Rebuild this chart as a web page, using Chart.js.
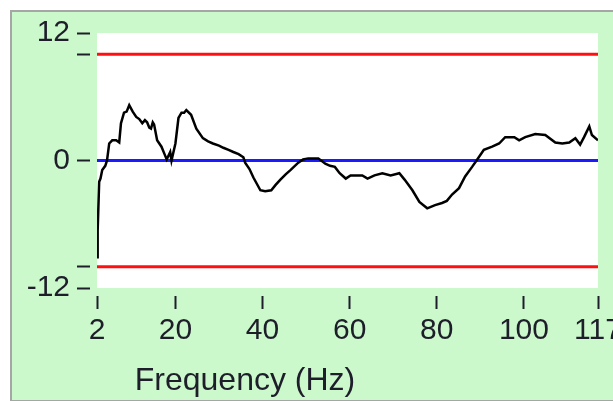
<!DOCTYPE html>
<html>
<head>
<meta charset="utf-8">
<script src="https://cdn.jsdelivr.net/npm/chart.js@4/dist/chart.umd.min.js"></script>
<style>
  html, body { margin: 0; padding: 0; background: #fff; overflow: hidden; }
  #wrap { width: 613px; height: 401px; }
</style>
</head>
<body>
<div id="wrap"><canvas id="c" width="613" height="401"></canvas></div>
<script>
// Measured response (dB) against frequency (Hz)
const freqs = [
  2.0, 2.15, 2.5, 2.8, 3.2, 3.9, 4.3, 4.8, 5.5, 6.4,
  7.1, 7.5, 8.2, 8.8, 9.4, 10.2, 11.0, 11.7, 12.4, 13.0,
  13.5, 14.0, 14.4, 14.8, 15.1, 15.8, 16.8, 17.5, 18.0, 18.8,
  19.1, 20.0, 20.7, 21.4, 22.0, 22.5, 23.6, 24.8, 26.3, 27.5,
  28.6, 30.0, 31.0, 32.2, 33.3, 34.5, 35.6, 36.0, 37.0, 37.9,
  39.5, 40.6, 42.0, 43.0, 44.1, 45.3, 46.4, 48.2, 49.3, 50.5,
  52.8, 54.4, 55.5, 56.6, 57.7, 59.1, 60.2, 61.5, 62.9, 64.1,
  65.7, 67.5, 69.4, 71.4, 72.6, 74.4, 76.0, 77.8, 79.6, 81.2,
  82.3, 83.5, 85.1, 86.5, 88.1, 89.2, 90.8, 92.7, 94.3, 95.7,
  97.8, 98.9, 100.3, 102.6, 104.9, 107.2, 108.8, 110.4, 111.8, 112.9,
  113.8, 115.0, 115.6, 117.0
];
const levels = [
  -9.1, -6.6, -2.0, -1.7, -0.9, -0.5, 0.0, 1.6, 1.9, 1.9,
  1.7, 3.5, 4.5, 4.6, 5.2, 4.6, 4.1, 3.9, 3.5, 3.8,
  3.6, 3.1, 3.0, 3.6, 3.4, 1.9, 1.3, 0.6, 0.1, 0.8,
  0.0, 1.6, 4.0, 4.5, 4.5, 4.75, 4.3, 3.0, 2.1, 1.8,
  1.6, 1.4, 1.2, 1.0, 0.8, 0.6, 0.3, -0.2, -0.8, -1.6,
  -2.8, -2.9, -2.8, -2.3, -1.8, -1.3, -0.9, -0.2, 0.1, 0.2,
  0.2, -0.3, -0.5, -0.6, -1.2, -1.7, -1.4, -1.4, -1.4, -1.7,
  -1.4, -1.2, -1.4, -1.2, -1.8, -2.8, -3.9, -4.5, -4.2, -4.0,
  -3.8, -3.2, -2.6, -1.5, -0.6, 0.05, 1.0, 1.3, 1.6, 2.2,
  2.2, 1.9, 2.2, 2.5, 2.4, 1.7, 1.6, 1.7, 2.1, 1.5,
  2.2, 3.2, 2.4, 1.9
];

// Tolerance band and reference level
const upperLimit = 10;
const lowerLimit = -10;
const referenceLevel = 0;

// Axis ticks
const xTicks = [2, 20, 40, 60, 80, 100, 117];
const yTicks = [-12, -10, 0, 10, 12];
const yLabelled = [-12, 0, 12];
const xMin = 2, xMax = 117, yMin = -12, yMax = 12;
const xTitle = 'Frequency (Hz)';

const FONT = "'Liberation Sans', Arial, sans-serif";
const INK = '#1e1e2a';

const pts = (xs, ys) => xs.map((x, i) => ({ x, y: ys[i] }));
const flat = v => [{ x: xMin, y: v }, { x: xMax, y: v }];

const panel = {
  id: 'panel',
  beforeDraw(chart) {
    const { ctx, width, height, chartArea: a } = chart;
    ctx.save();
    ctx.fillStyle = '#ffffff';
    ctx.fillRect(0, 0, width, height);
    ctx.fillStyle = '#a6a6a6';
    ctx.fillRect(10, 10, width - 10, height - 10);
    ctx.fillStyle = '#ccf9cc';
    ctx.fillRect(12, 12, width - 12, height - 13);
    ctx.fillStyle = '#ffffff';
    ctx.fillRect(a.left, a.top, a.right - a.left, a.bottom - a.top);
    ctx.restore();
  },
  afterDraw(chart) {
    const ctx = chart.ctx;
    ctx.save();
    ctx.font = `32px ${FONT}`;
    ctx.fillStyle = INK;
    ctx.textAlign = 'center';
    ctx.textBaseline = 'middle';
    ctx.fillText(xTitle, 245, 381);
    ctx.restore();
  }
};

new Chart(document.getElementById('c'), {
  type: 'line',
  data: {
    datasets: [
      { data: pts(freqs, levels), borderColor: '#000000', borderWidth: 2.5, order: 0 },
      { data: flat(upperLimit), borderColor: '#ff1010', borderWidth: 3, order: 1 },
      { data: flat(lowerLimit), borderColor: '#ff1010', borderWidth: 3, order: 1 },
      { data: flat(referenceLevel), borderColor: '#1a1aff', borderWidth: 3, order: 1 }
    ]
  },
  options: {
    responsive: false,
    animation: false,
    devicePixelRatio: 1,
    elements: { point: { radius: 0, hoverRadius: 0 }, line: { tension: 0, fill: false } },
    layout: { padding: { left: 0, top: 33, right: 15, bottom: 0 } },
    plugins: { legend: { display: false }, tooltip: { enabled: false } },
    scales: {
      x: {
        type: 'linear', min: xMin, max: xMax,
        afterBuildTicks: s => { s.ticks = xTicks.map(v => ({ value: v })); },
        afterFit: s => { s.height = 113; s.paddingLeft = 0; s.paddingRight = 0; },
        border: { display: false },
        grid: {
          drawOnChartArea: false, drawTicks: true, tickLength: 21,
          tickWidth: 2, tickColor: INK, tickBorderDash: [0, 8, 13]
        },
        ticks: {
          font: { family: FONT, size: 30 }, color: INK, padding: 4,
          maxRotation: 0, autoSkip: false, callback: v => String(v)
        }
      },
      y: {
        min: yMin, max: yMax,
        afterBuildTicks: s => { s.ticks = yTicks.map(v => ({ value: v })); },
        afterFit: s => { s.width = 97; s.paddingTop = 0; s.paddingBottom = 0; },
        border: { display: false },
        grid: {
          drawOnChartArea: false, drawTicks: true, tickLength: 20,
          tickWidth: 2, tickColor: INK, tickBorderDash: [13, 7]
        },
        ticks: {
          font: { family: FONT, size: 30 }, color: INK, padding: 7,
          autoSkip: false, callback: v => (yLabelled.includes(v) ? String(v) : '')
        }
      }
    }
  },
  plugins: [panel]
});
</script>
</body>
</html>
